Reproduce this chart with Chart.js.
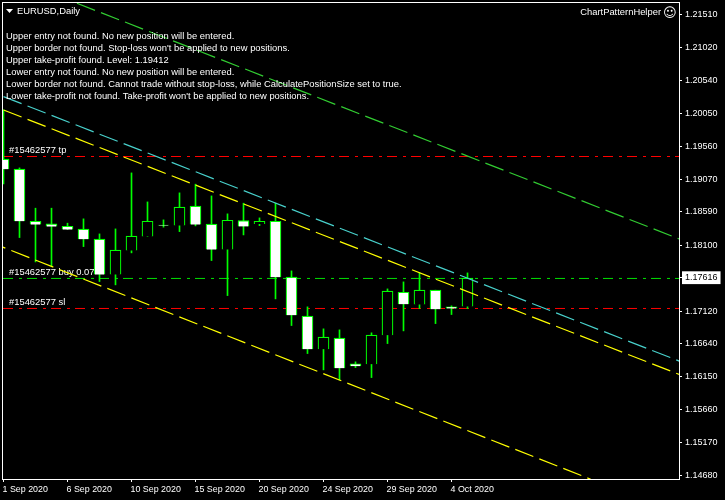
<!DOCTYPE html>
<html>
<head>
<meta charset="utf-8">
<title>EURUSD,Daily</title>
<script src="https://cdn.jsdelivr.net/npm/chart.js@4/dist/chart.umd.min.js"></script>
<style>
  html, body { margin: 0; padding: 0; background: #000; }
  canvas { display: block; }
</style>
</head>
<body>
<canvas id="grafico" width="725" height="500"></canvas>
<script>
var opens = [1.19372, 1.19224, 1.18453, 1.18413, 1.18379, 1.18335, 1.18187, 1.17662, 1.18018, 1.18225,
  1.18394, 1.18388, 1.18676, 1.18409, 1.18033, 1.18462, 1.18418, 1.18453, 1.17624, 1.17046,
  1.16557, 1.16720, 1.16339, 1.16335, 1.16764, 1.17401, 1.17218, 1.17431, 1.17184, 1.17188];
var closes = [1.19224, 1.18453, 1.18403, 1.18373, 1.18329, 1.18187, 1.17662, 1.18024, 1.18231, 1.18453,
  1.18390, 1.18661, 1.18403, 1.18033, 1.18468, 1.18376, 1.18453, 1.17624, 1.17061, 1.16557,
  1.16735, 1.16276, 1.16310, 1.16764, 1.17416, 1.17224, 1.17431, 1.17150, 1.17159, 1.17609];
var highs = [1.20102, 1.19243, 1.18646, 1.18646, 1.18424, 1.18488, 1.18265, 1.18339, 1.19169, 1.18739,
  1.18473, 1.18873, 1.19002, 1.18828, 1.18562, 1.18720, 1.18502, 1.18720, 1.17717, 1.17184,
  1.16858, 1.16843, 1.16369, 1.16799, 1.17450, 1.17554, 1.17687, 1.17431, 1.17199, 1.17687];
var lows = [1.19006, 1.18211, 1.17850, 1.17781, 1.18329, 1.18077, 1.17559, 1.17510, 1.17984, 1.18225,
  1.18365, 1.18299, 1.18384, 1.17870, 1.17351, 1.18250, 1.18388, 1.17302, 1.16907, 1.16492,
  1.16250, 1.16102, 1.16284, 1.16136, 1.16640, 1.16828, 1.17159, 1.16936, 1.17070, 1.17159];

var dateTicks = [0, 4, 8, 12, 16, 20, 24, 28];
var dateLabels = ['1 Sep 2020', '6 Sep 2020', '10 Sep 2020', '15 Sep 2020', '20 Sep 2020', '24 Sep 2020', '29 Sep 2020', '4 Oct 2020'];
var priceTicks = [1.21510, 1.21020, 1.20540, 1.20050, 1.19560, 1.19070, 1.18590, 1.18100, 1.17616, 1.17120, 1.16640, 1.16150, 1.15660, 1.15170, 1.14680];
var currentPrice = 1.17616;

var tpLevel = 1.19412;
var buyLevel = 1.17605;
var slLevel = 1.17160;

var greenChannel = [{ x: 4.59, y: 1.21683 }, { x: 42.23, y: 1.18191 }];
var cyanChannel = [{ x: 0, y: 1.20300 }, { x: 42.25, y: 1.16379 }];
var yellowUpper = [{ x: 0, y: 1.20102 }, { x: 42.25, y: 1.16181 }];
var yellowLower = [{ x: -1.0125, y: 1.18159 }, { x: 36.7, y: 1.14630 }];

var comments = [
  'Upper entry not found. No new position will be entered.',
  "Upper border not found. Stop-loss won't be applied to new positions.",
  'Upper take-profit found. Level: 1.19412',
  'Lower entry not found. No new position will be entered.',
  'Lower border not found. Cannot trade without stop-loss, while CalculatePositionSize set to true.',
  "Lower take-profit not found. Take-profit won't be applied to new positions."
];
var orderLabels = ['#15462577 tp', '#15462577 buy 0.07', '#15462577 sl'];
var orderLabelPrices = [tpLevel, buyLevel, slLevel];

var xMin = -0.03125, xMax = 42.21875;
var yMin = 1.14633, yMax = 1.217016;
var fonte = '"Liberation Sans", sans-serif';
var verde = '#00ff00';

function nivel(valor, cor) {
  return {
    type: 'line',
    data: [{ x: xMin, y: valor }, { x: xMax, y: valor }],
    borderColor: cor,
    borderWidth: 1,
    borderDash: [10, 6, 3, 5],
    pointRadius: 0,
    order: 5
  };
}

function canal(pontos, cor) {
  return {
    type: 'line',
    data: pontos,
    borderColor: cor,
    borderWidth: 1.2,
    borderDash: [19.4, 6.4],
    pointRadius: 0,
    order: 1
  };
}

// pavios e corpos das velas
var pavios = [], corpos = [], coresCorpo = [];
for (var i = 0; i < opens.length; i++) {
  pavios.push({ x: i, y: [lows[i], highs[i]] });
  corpos.push({ x: i, y: [Math.min(opens[i], closes[i]), Math.max(opens[i], closes[i])] });
  coresCorpo.push(closes[i] < opens[i] ? '#ffffff' : '#000000');
}

var fundoPlugin = {
  id: 'fundo',
  beforeDraw: function (chart) {
    var ctx = chart.ctx;
    ctx.save();
    ctx.fillStyle = '#000000';
    ctx.fillRect(0, 0, chart.width, chart.height);
    ctx.restore();
  },
  // rótulos das ordens ficam atrás das velas
  beforeDatasetsDraw: function (chart) {
    var ctx = chart.ctx;
    ctx.save();
    ctx.font = '9.4px ' + fonte;
    ctx.fillStyle = '#ffffff';
    ctx.textBaseline = 'bottom';
    ctx.textAlign = 'left';
    for (var i = 0; i < orderLabels.length; i++) {
      ctx.fillText(orderLabels[i], 9, chart.scales.y.getPixelForValue(orderLabelPrices[i]) - 1);
    }
    ctx.restore();
  },
  afterDraw: function (chart) {
    var ctx = chart.ctx;
    var a = chart.chartArea;
    ctx.save();
    ctx.strokeStyle = '#ffffff';
    ctx.lineWidth = 1;
    ctx.strokeRect(a.left - 0.5, a.top + 0.5, a.right - a.left + 1, a.bottom - a.top);

    ctx.fillStyle = '#ffffff';
    ctx.beginPath();
    ctx.moveTo(6, 9);
    ctx.lineTo(13, 9);
    ctx.lineTo(9.5, 13);
    ctx.closePath();
    ctx.fill();

    ctx.font = '9.4px ' + fonte;
    ctx.textBaseline = 'middle';
    ctx.textAlign = 'left';
    ctx.fillText('EURUSD,Daily', 17, 11);
    for (var i = 0; i < comments.length; i++) {
      ctx.fillText(comments[i], 6, 36 + i * 12);
    }
    ctx.textAlign = 'right';
    ctx.fillText('ChartPatternHelper', 661, 12);
    ctx.font = '13px "DejaVu Sans"';
    ctx.textAlign = 'left';
    ctx.fillText('\u263A', 663, 14);
    ctx.restore();
  }
};

new Chart(document.getElementById('grafico'), {
  type: 'bar',
  plugins: [fundoPlugin],
  data: {
    datasets: [
      nivel(tpLevel, '#ff0000'),
      nivel(buyLevel, '#00e000'),
      nivel(slLevel, '#ff0000'),
      { data: pavios, backgroundColor: verde, barThickness: 1, grouped: false, order: 4 },
      { data: corpos, backgroundColor: coresCorpo, borderColor: verde, borderWidth: 1.2, barThickness: 11, grouped: false, order: 3 },
      canal(greenChannel, '#32cd32'),
      canal(cyanChannel, '#48d1cc'),
      canal(yellowUpper, '#ffff00'),
      canal(yellowLower, '#ffff00')
    ]
  },
  options: {
    responsive: false,
    animation: false,
    devicePixelRatio: 1,
    layout: { padding: { left: 3, top: 2, right: 0, bottom: 0 } },
    plugins: { legend: { display: false }, tooltip: { enabled: false } },
    scales: {
      x: {
        type: 'linear',
        offset: false,
        min: xMin,
        max: xMax,
        afterFit: function (scale) {
          scale.height = 21;
          scale.paddingLeft = 0;
          scale.paddingRight = 0;
        },
        afterBuildTicks: function (scale) {
          scale.ticks = dateTicks.map(function (v) { return { value: v }; });
        },
        grid: { offset: false, drawOnChartArea: false, color: '#ffffff', tickColor: '#ffffff', tickLength: 3 },
        border: { color: '#ffffff' },
        ticks: {
          color: '#ffffff',
          font: { family: fonte, size: 8.9 },
          align: 'start',
          labelOffset: -1,
          padding: 2,
          maxRotation: 0,
          autoSkip: false,
          callback: function (v) { return dateLabels[dateTicks.indexOf(v)]; }
        }
      },
      y: {
        position: 'right',
        min: yMin,
        max: yMax,
        afterFit: function (scale) {
          scale.width = 46;
          scale.paddingTop = 0;
          scale.paddingBottom = 0;
        },
        afterBuildTicks: function (scale) {
          scale.ticks = priceTicks.map(function (v) { return { value: v }; });
        },
        grid: { drawOnChartArea: false, color: '#ffffff', tickColor: '#ffffff', tickLength: 3 },
        border: { color: '#ffffff' },
        ticks: {
          font: { family: fonte, size: 9 },
          padding: 3,
          autoSkip: false,
          color: function (c) { return c.tick && c.tick.value === currentPrice ? '#000000' : '#ffffff'; },
          showLabelBackdrop: function (c) { return c.tick && c.tick.value === currentPrice; },
          backdropColor: '#ffffff',
          backdropPadding: { left: 3, right: 3, top: 1, bottom: 1 },
          callback: function (v) { return v.toFixed(5); }
        }
      }
    }
  }
});
</script>
</body>
</html>
